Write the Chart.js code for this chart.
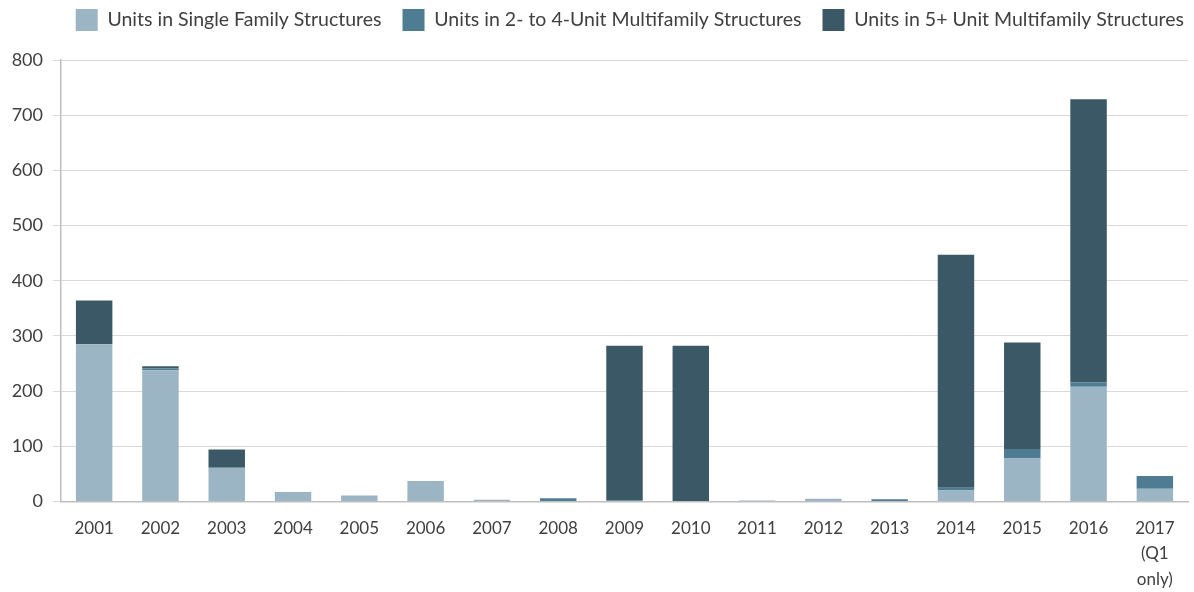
<!DOCTYPE html>
<html>
<head>
<meta charset="utf-8">
<script src="https://cdn.jsdelivr.net/npm/chart.js@4"></script>
<style>
  html, body { margin: 0; padding: 0; background: #fff; }
  #wrap { width: 1194px; height: 592px; }
</style>
</head>
<body>
<div id="wrap"><canvas id="unitsChart" width="1194" height="592"></canvas></div>
<script>
// Units built per year, split by structure type
const years = ['2001', '2002', '2003', '2004', '2005', '2006', '2007', '2008', '2009',
    '2010', '2011', '2012', '2013', '2014', '2015', '2016', ['2017', '(Q1', 'only)']];
const singleFamily = [285, 238, 61, 17, 11, 37, 3, 0, 0, 0, 2, 5, 0, 20, 78, 208, 23];
const twoToFour = [0, 3, 0, 0, 0, 0, 0, 6, 2, 0, 0, 0, 4, 5, 17, 8, 23];
const fivePlus = [79, 4, 33, 0, 0, 0, 0, 0, 280, 282, 0, 0, 0, 422, 193, 513, 0];
const yTicks = [0, 100, 200, 300, 400, 500, 600, 700, 800];

const seriesNames = ['Units in Single Family Structures',
    'Units in 2- to 4-Unit Multifamily Structures',
    'Units in 5+ Unit Multifamily Structures'];
const seriesColors = ['#9bb5c4', '#4d7c93', '#3b5867'];

Chart.defaults.font.family = 'Lato, "Open Sans", sans-serif';
Chart.defaults.color = '#404040';

// extra room under the legend, and let it run out past the plot's right edge
const legendTweak = {
    id: 'legendTweak',
    beforeInit(chart) {
        const legend = chart.legend;
        const origFit = legend.fit;
        legend.fit = function () {
            origFit.call(this);
            this.height += 19;
        };
    },
    afterLayout(chart) {
        chart.legend.right += 17;
        chart.legend.width += 17;
    }
};

const datasets = [singleFamily, twoToFour, fivePlus].map((vals, i) => ({
    label: seriesNames[i],
    data: vals,
    backgroundColor: seriesColors[i],
    borderWidth: 0
}));

new Chart(document.getElementById('unitsChart'), {
    type: 'bar',
    data: { labels: years, datasets: datasets },
    plugins: [legendTweak],
    options: {
        responsive: false,
        animation: false,
        devicePixelRatio: 1,
        layout: { padding: { top: -12, right: 6, left: 0, bottom: -14 } },
        datasets: {
            bar: { categoryPercentage: 1, barPercentage: 0.55 }
        },
        plugins: {
            tooltip: { enabled: false },
            legend: {
                position: 'top',
                align: 'end',
                labels: {
                    boxWidth: 22,
                    boxHeight: 22,
                    padding: 21,
                    font: { size: 19.5 },
                    color: '#404040'
                }
            }
        },
        scales: {
            x: {
                stacked: true,
                grid: { display: false, drawTicks: false },
                border: { color: '#bfbfbf', width: 1.5 },
                ticks: {
                    autoSkip: false,
                    maxRotation: 0,
                    padding: 14,
                    font: { size: 17, lineHeight: 1.5 }
                }
            },
            y: {
                stacked: true,
                min: 0,
                max: 800,
                afterBuildTicks(scale) {
                    scale.ticks = yTicks.map(v => ({ value: v }));
                },
                afterFit(scale) {
                    scale.width = 61;
                },
                grid: { color: '#d9d9d9', tickLength: 8, drawTicks: true },
                border: { color: '#bfbfbf', width: 1.5 },
                ticks: { padding: 10, font: { size: 18 } }
            }
        }
    }
});
</script>
</body>
</html>
